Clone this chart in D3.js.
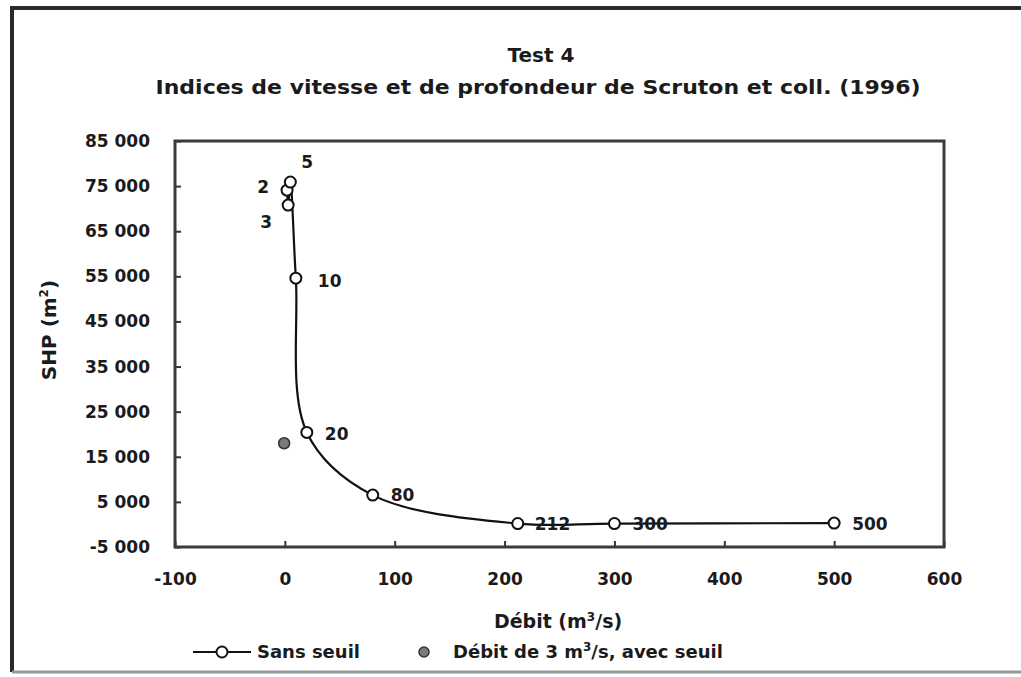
<!DOCTYPE html>
<html>
<head>
<meta charset="utf-8">
<script src="https://cdn.jsdelivr.net/npm/d3@7"></script>
<style>
  body { margin: 0; background: #fff; }
  text { font-family: "DejaVu Sans", sans-serif; font-weight: bold; fill: #1b1b1b; }
</style>
</head>
<body>
<script>
// Data
var debits = [2, 3, 5, 10, 20, 80, 212, 300, 500];          // m3/s, "Sans seuil"
var shp = [74100, 70800, 75900, 54600, 20400, 6500, 200, 200, 300];  // m2
var pointLabels = ["2", "3", "5", "10", "20", "80", "212", "300", "500"];
var seuilDebit = [3];
var seuilShp = [18000];
var xTicks = [-100, 0, 100, 200, 300, 400, 500, 600];
var yTicks = [-5000, 5000, 15000, 25000, 35000, 45000, 55000, 65000, 75000, 85000];
var legendLabels = ["Sans seuil", "Débit de 3 m³/s, avec seuil"];

var width = 1021, height = 677;
var svg = d3.select("body").append("svg")
  .attr("width", width)
  .attr("height", height);

// scanned-page border (left, top, bottom)
svg.append("path")
  .attr("d", "M12,672 L12,8 L1021,8")
  .attr("fill", "none")
  .attr("stroke", "#2a2a2a")
  .attr("stroke-width", 4);
svg.append("line")
  .attr("x1", 12).attr("x2", 1021).attr("y1", 672).attr("y2", 672)
  .attr("stroke", "#999").attr("stroke-width", 3);

var x = d3.scaleLinear().domain([-100, 600]).range([175, 944]);
var y = d3.scaleLinear().domain([-5000, 85000]).range([547, 141]);

var loc = d3.formatLocale({ decimal: ",", thousands: " ", grouping: [3], currency: ["", ""], minus: "-" });
var fmt = loc.format(",d");

// titles
svg.append("text")
  .attr("x", 541).attr("y", 62)
  .attr("text-anchor", "middle")
  .style("font-size", "20px")
  .text("Test 4");
svg.append("text")
  .attr("x", 538).attr("y", 94)
  .attr("text-anchor", "middle")
  .style("font-size", "20px")
  .attr("textLength", 765)
  .attr("lengthAdjust", "spacingAndGlyphs")
  .text("Indices de vitesse et de profondeur de Scruton et coll. (1996)");

// axes, ticks point into the plot
var yAxis = d3.axisLeft(y).tickValues(yTicks).tickFormat(fmt).tickSize(-6).tickPadding(25);
var xAxis = d3.axisBottom(x).tickValues(xTicks).tickFormat(fmt).tickSize(-6).tickPadding(26);

var gy = svg.append("g").attr("transform", "translate(" + x(-100) + ",0)").call(yAxis);
var gx = svg.append("g").attr("transform", "translate(0," + y(-5000) + ")").call(xAxis);
[gx, gy].forEach(function(g) {
  g.select(".domain").remove();
  g.selectAll(".tick line").attr("stroke", "#333").attr("stroke-width", 2);
  g.selectAll(".tick text").style("font-size", "17px").attr("fill", "#1b1b1b");
});

// plot frame
svg.append("rect")
  .attr("x", x(-100)).attr("y", y(85000))
  .attr("width", x(600) - x(-100))
  .attr("height", y(-5000) - y(85000))
  .attr("fill", "none")
  .attr("stroke", "#3a3a3a")
  .attr("stroke-width", 3);

// axis titles
svg.append("text")
  .attr("x", 558).attr("y", 628)
  .attr("text-anchor", "middle")
  .style("font-size", "19px")
  .html("Débit (m<tspan dy='-7' style='font-size:12px'>3</tspan><tspan dy='7'>/s)</tspan>");
svg.append("text")
  .attr("transform", "translate(56,330) rotate(-90)")
  .attr("text-anchor", "middle")
  .style("font-size", "20px")
  .html("SHP (m<tspan dy='-8' style='font-size:12px'>2</tspan><tspan dy='8'>)</tspan>");

// series "Sans seuil"
var pts = debits.map(function(d, i) { return { q: d, s: shp[i], label: pointLabels[i] }; });

var line = d3.line()
  .x(function(d) { return x(d.q); })
  .y(function(d) { return y(d.s); })
  .curve(d3.curveCatmullRom.alpha(0.5));

svg.append("path")
  .datum(pts)
  .attr("d", line)
  .attr("fill", "none")
  .attr("stroke", "#111")
  .attr("stroke-width", 2.2);

svg.selectAll(".pt")
  .data(pts)
  .enter().append("circle")
  .attr("class", "pt")
  .attr("cx", function(d) { return x(d.q); })
  .attr("cy", function(d) { return y(d.s); })
  .attr("r", 5.5)
  .attr("fill", "#fff")
  .attr("stroke", "#111")
  .attr("stroke-width", 2);

// point labels (offsets from each point)
var labelOffsets = {
  "2": [-24, -3, "end"], "3": [-22, 17, "end"], "5": [11, -20, "start"],
  "10": [22, 3, "start"], "20": [18, 1, "start"], "80": [18, 0, "start"],
  "212": [17, 0, "start"], "300": [18, 0, "start"], "500": [18, 1, "start"]
};
svg.selectAll(".lbl")
  .data(pts)
  .enter().append("text")
  .attr("class", "lbl")
  .attr("x", function(d) { var o = labelOffsets[d.label]; return x(d.q) + o[0] + (o[2] == "end" ? 6 : 0); })
  .attr("y", function(d) { return y(d.s) + labelOffsets[d.label][1]; })
  .attr("dy", "0.36em")
  .attr("text-anchor", function(d) { return labelOffsets[d.label][2]; })
  .style("font-size", "17px")
  .text(function(d) { return d.label; });

// series "avec seuil"
svg.selectAll(".seuil")
  .data(seuilDebit)
  .enter().append("circle")
  .attr("class", "seuil")
  .attr("cx", function(d) { return x(d) - 4; })
  .attr("cy", function(d, i) { return y(seuilShp[i]); })
  .attr("r", 5.5)
  .attr("fill", "#7a7a7a")
  .attr("stroke", "#333")
  .attr("stroke-width", 1.5);

// legend
var ly = 652;
var lg = svg.append("g");
lg.append("line")
  .attr("x1", 193).attr("x2", 251).attr("y1", ly).attr("y2", ly)
  .attr("stroke", "#111").attr("stroke-width", 2.2);
lg.append("circle")
  .attr("cx", 222).attr("cy", ly).attr("r", 5.5)
  .attr("fill", "#fff").attr("stroke", "#111").attr("stroke-width", 2);
lg.append("text")
  .attr("x", 257).attr("y", ly).attr("dy", "0.36em")
  .style("font-size", "18px")
  .text(legendLabels[0]);
lg.append("circle")
  .attr("cx", 424).attr("cy", ly).attr("r", 5)
  .attr("fill", "#7a7a7a").attr("stroke", "#333").attr("stroke-width", 1.5);
lg.append("text")
  .attr("x", 453).attr("y", ly).attr("dy", "0.36em")
  .style("font-size", "18px")
  .html("Débit de 3 m<tspan dy='-7' style='font-size:12px'>3</tspan><tspan dy='7'>/s, avec seuil</tspan>");
</script>
</body>
</html>
